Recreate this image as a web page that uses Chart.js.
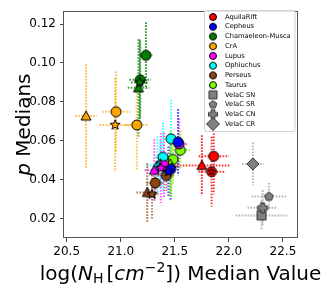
<!DOCTYPE html>
<html><head><meta charset="utf-8">
<script src="https://cdn.jsdelivr.net/npm/chart.js@4"></script>
<style>html,body{margin:0;padding:0;background:#fff}#wrap{width:330px;height:291px;position:relative}</style>
</head><body><div id="wrap"><canvas id="c" width="330" height="291"></canvas></div>
<script>
// ---- data ----
const regions = ['AquilaRift','Cepheus','Chamaeleon-Musca','CrA','Lupus','Ophiuchus','Perseus','Taurus'];
const velaLabels = ['VelaC SN','VelaC SR','VelaC CN','VelaC CR'];
const xTicks = [20.5, 21.0, 21.5, 22.0, 22.5];
const yTicks = [0.02, 0.04, 0.06, 0.08, 0.10, 0.12];

const aquilaX = [21.86, 21.75, 21.84];
const aquilaY = [0.0520, 0.0473, 0.0441];
const aquilaXErr = [0.14, 0.26, 0.12];
const aquilaYErr = [0.0195, 0.0155, 0.0180];
const aquilaKind = ['circle','triangle','circstar'];

const cepheusX = [21.53, 21.46, 21.44];
const cepheusY = [0.0593, 0.0453, 0.0441];
const cepheusXErr = [0.05, 0.07, 0.05];
const cepheusYErr = [0.017, 0.016, 0.013];
const cepheusKind = ['circle','circle','star'];

const chamX = [21.233, 21.18, 21.164, 21.175];
const chamY = [0.1039, 0.0913, 0.0872, 0.0900];
const chamXErr = [0.06, 0.10, 0.10, 0.08];
const chamYErr = [0.017, 0.020, 0.025, 0.022];
const chamKind = ['circle','circle','triangle','star'];

const craX = [20.679, 20.957, 20.948, 21.149];
const craY = [0.0727, 0.0749, 0.0681, 0.0681];
const craXErr = [0.10, 0.13, 0.145, 0.11];
const craYErr = [0.0267, 0.0207, 0.0240, 0.0228];
const craKind = ['triangle','circle','star','circle'];

const lupusX = [21.54, 21.40, 21.31, 21.37];
const lupusY = [0.0583, 0.0473, 0.0448, 0.0460];
const lupusXErr = [0.08, 0.08, 0.09, 0.05];
const lupusYErr = [0.013, 0.017, 0.016, 0.018];
const lupusKind = ['circle','circle','triangle','star'];

const ophX = [21.465, 21.39, 21.34, 21.366];
const ophY = [0.0610, 0.0515, 0.0473, 0.0481];
const ophXErr = [0.07, 0.07, 0.10, 0.06];
const ophYErr = [0.020, 0.018, 0.015, 0.012];
const ophKind = ['circle','circle','triangle','star'];

const perX = [21.421, 21.319, 21.245, 21.289];
const perY = [0.0421, 0.0383, 0.0334, 0.0325];
const perXErr = [0.08, 0.08, 0.10, 0.06];
const perYErr = [0.008, 0.008, 0.015, 0.013];
const perKind = ['circle','circle','triangle','star'];

const taurusX = [21.551, 21.483, 21.458, 21.47];
const taurusY = [0.0551, 0.0504, 0.0481, 0.0460];
const taurusXErr = [0.09, 0.07, 0.06, 0.05];
const taurusYErr = [0.010, 0.013, 0.017, 0.015];
const taurusKind = ['circle','circle','triangle','star'];

const velaX = [22.302, 22.370, 22.312, 22.222];
const velaY = [0.0216, 0.0313, 0.0255, 0.0481];
const velaXErr = [0.24, 0.16, 0.14, 0.10];
const velaYErr = [0.0076, 0.0070, 0.0090, 0.0110];
const velaKind = ['square','pentagon','plus','diamond'];

const regionColors = ['#ff0000','#0000ff','#008000','#ffa500','#ff00ff','#00ffff','#8b4513','#7cfc00'];
const errColors = ['rgba(255,0,0,0.8)','rgba(0,0,255,0.7)','rgba(0,128,0,0.75)','rgba(255,165,0,0.7)','rgba(255,0,255,0.7)','rgba(0,255,255,0.8)','rgba(139,69,19,0.7)','rgba(124,252,0,0.8)'];

// ---- markers ----
function makeMarker(kind, fill, size, edge) {
  let d = Math.ceil(size) + 4; if (d % 2) d++;
  const c = document.createElement('canvas'); c.width = d; c.height = d;
  const g = c.getContext('2d'); const cx = d/2, cy = d/2, r = size/2;
  g.beginPath();
  const poly = (n, rr, rot) => { for (let i=0;i<n;i++){ const a = rot + i*2*Math.PI/n; const px=cx+rr*Math.cos(a), py=cy+rr*Math.sin(a); i?g.lineTo(px,py):g.moveTo(px,py);} g.closePath(); };
  if (kind==='circle' || kind==='circstar') g.arc(cx,cy,r,0,Math.PI*2);
  else if (kind==='triangle') { g.moveTo(cx,cy-r); g.lineTo(cx+r,cy+r*0.8); g.lineTo(cx-r,cy+r*0.8); g.closePath(); }
  else if (kind==='star') { for (let i=0;i<10;i++){ const a=-Math.PI/2+i*Math.PI/5; const rr=i%2? r*0.45 : r*1.05; const px=cx+rr*Math.cos(a), py=cy+rr*Math.sin(a); i?g.lineTo(px,py):g.moveTo(px,py);} g.closePath(); }
  else if (kind==='pentagon') poly(5, r, -Math.PI/2);
  else if (kind==='square') g.rect(cx-r, cy-r, 2*r, 2*r);
  else if (kind==='diamond') poly(4, r, -Math.PI/2);
  else if (kind==='plus') { const w=r*0.4; g.moveTo(cx-w,cy-r); g.lineTo(cx+w,cy-r); g.lineTo(cx+w,cy-w); g.lineTo(cx+r,cy-w); g.lineTo(cx+r,cy+w); g.lineTo(cx+w,cy+w); g.lineTo(cx+w,cy+r); g.lineTo(cx-w,cy+r); g.lineTo(cx-w,cy+w); g.lineTo(cx-r,cy+w); g.lineTo(cx-r,cy-w); g.lineTo(cx-w,cy-w); g.closePath(); }
  g.fillStyle = fill; g.fill(); g.lineWidth = 1; g.strokeStyle = edge || '#000'; g.stroke();
  if (kind==='circstar') { g.beginPath(); for (let i=0;i<10;i++){ const a=-Math.PI/2+i*Math.PI/5; const rr=i%2? r*0.3 : r*0.7; const px=cx+rr*Math.cos(a), py=cy+rr*Math.sin(a); i?g.lineTo(px,py):g.moveTo(px,py);} g.closePath(); g.stroke(); }
  return c;
}
const plotSize = {circle:10, circstar:10, triangle:10, star:10, square:9, pentagon:9, plus:10, diamond:12};

const groups = [
  {x:aquilaX, y:aquilaY, xe:aquilaXErr, ye:aquilaYErr, k:aquilaKind, i:0},
  {x:cepheusX, y:cepheusY, xe:cepheusXErr, ye:cepheusYErr, k:cepheusKind, i:1},
  {x:chamX, y:chamY, xe:chamXErr, ye:chamYErr, k:chamKind, i:2},
  {x:craX, y:craY, xe:craXErr, ye:craYErr, k:craKind, i:3},
  {x:lupusX, y:lupusY, xe:lupusXErr, ye:lupusYErr, k:lupusKind, i:4},
  {x:ophX, y:ophY, xe:ophXErr, ye:ophYErr, k:ophKind, i:5},
  {x:perX, y:perY, xe:perXErr, ye:perYErr, k:perKind, i:6},
  {x:taurusX, y:taurusY, xe:taurusXErr, ye:taurusYErr, k:taurusKind, i:7},
  {x:velaX, y:velaY, xe:velaXErr, ye:velaYErr, k:velaKind, i:-1}
];

const datasets = groups.map(gr => {
  const fill = gr.i >= 0 ? regionColors[gr.i] : '#808080';
  const edge = gr.i >= 0 ? '#000' : '#333';
  const imgs = gr.k.map(k => makeMarker(k, fill, plotSize[k], edge));
  return {
    label: gr.i >= 0 ? regions[gr.i] : 'VelaC',
    data: gr.x.map((v, j) => ({x: v, y: gr.y[j]})),
    pointStyle: ctx => imgs[ctx.dataIndex],
    pointRadius: 5,
    showLine: false
  };
});

const errorBars = {
  id: 'errorBars',
  beforeDatasetsDraw(chart) {
    const ctx = chart.ctx, xs = chart.scales.x, ys = chart.scales.y, a = chart.chartArea;
    ctx.save();
    ctx.beginPath(); ctx.rect(a.left, a.top, a.right-a.left, a.bottom-a.top); ctx.clip();
    ctx.lineWidth = 2; ctx.setLineDash([1.6, 1.4]);
    groups.forEach(gr => {
      ctx.strokeStyle = gr.i >= 0 ? errColors[gr.i] : 'rgba(150,150,150,0.7)';
      gr.x.forEach((v, j) => {
        const px = xs.getPixelForValue(v), py = ys.getPixelForValue(gr.y[j]);
        ctx.beginPath();
        ctx.moveTo(xs.getPixelForValue(v - gr.xe[j]), py); ctx.lineTo(xs.getPixelForValue(v + gr.xe[j]), py);
        ctx.moveTo(px, ys.getPixelForValue(gr.y[j] + gr.ye[j])); ctx.lineTo(px, ys.getPixelForValue(gr.y[j] - gr.ye[j]));
        ctx.stroke();
      });
    });
    ctx.restore();
  }
};

const decor = {
  id: 'decor',
  afterDraw(chart) {
    const ctx = chart.ctx, a = chart.chartArea;
    ctx.save();
    // frame
    ctx.strokeStyle = '#555'; ctx.lineWidth = 1;
    ctx.strokeRect(Math.round(a.left)-0.5, Math.round(a.top)+0.5, Math.round(a.right-a.left)+1, Math.round(a.bottom-a.top)-1);
    // legend
    const lx = 204, ly = 10, lw = 90.5, lh = 121;
    ctx.fillStyle = 'rgba(255,255,255,0.85)'; ctx.strokeStyle = '#d0d0d0';
    ctx.beginPath(); ctx.roundRect(lx+0.5, ly+0.5, lw, lh, 2); ctx.fill(); ctx.stroke();
    const labels = regions.concat(velaLabels);
    const legSize = {square:8, pentagon:8, plus:9, diamond:13};
    ctx.font = '6.7px "DejaVu Sans"'; ctx.fillStyle = '#000'; ctx.textBaseline = 'middle'; ctx.textAlign = 'left';
    labels.forEach((lab, i) => {
      const yy = 17 + i * 9.73;
      let img;
      if (i < regions.length) img = makeMarker('circle', regionColors[i], 7, '#000');
      else { const k = velaKind[i - regions.length]; img = makeMarker(k, '#808080', legSize[k], '#333'); }
      ctx.drawImage(img, 213 - img.width/2, yy - img.height/2);
      ctx.fillText(lab, 225, yy);
    });
    // axis titles
    ctx.fillStyle = '#000'; ctx.textBaseline = 'alphabetic';
    const segs = (list) => list.reduce((s, t) => { ctx.font = t.f; return s + ctx.measureText(t.t).width + (t.dx||0); }, 0);
    const drawSegs = (list, x0, y0) => { let x = x0; list.forEach(t => { ctx.font = t.f; ctx.fillText(t.t, x, y0 + (t.dy||0)); x += ctx.measureText(t.t).width + (t.dx||0); }); };
    const N = '20px "DejaVu Sans"', I = 'italic 20px "DejaVu Sans"', S = '14px "DejaVu Sans"';
    const xt = [
      {t:'log(', f:N}, {t:'N', f:I}, {t:'H', f:S, dy:3, dx:3}, {t:'[', f:N}, {t:'cm', f:I},
      {t:'\u22122', f:S, dy:-8}, {t:'])', f:N}, {t:' Median Value', f:N}
    ];
    ctx.textAlign = 'left';
    const wx = segs(xt);
    drawSegs(xt, (a.left + a.right)/2 - wx/2, 280);
    const yt = [{t:'p', f:I}, {t:' Medians', f:N}];
    const wy = segs(yt);
    ctx.translate(30, (a.top + a.bottom)/2); ctx.rotate(-Math.PI/2);
    drawSegs(yt, -wy/2, 0);
    ctx.restore();
  }
};

const tickFont = {family: '"DejaVu Sans"', size: 12};
new Chart(document.getElementById('c'), {
  type: 'scatter',
  data: {datasets},
  options: {
    responsive: false, animation: false, devicePixelRatio: 1, events: [],
    layout: {padding: {left: 24, right: 33, top: 8, bottom: 23}},
    plugins: {legend: {display: false}, tooltip: {enabled: false}},
    scales: {
      x: {
        type: 'linear', min: 20.475, max: 22.63,
        afterBuildTicks: s => { s.ticks = xTicks.map(v => ({value: v})); },
        afterFit: s => { s.height = 30; },
        ticks: {callback: v => Number(v).toFixed(1), font: tickFont, color: '#000', maxRotation: 0, autoSkip: false, padding: 3},
        grid: {display: true, drawOnChartArea: false, tickLength: 4, color: '#444'},
        border: {display: false}
      },
      y: {
        type: 'linear', min: 0.0100, max: 0.1266,
        afterBuildTicks: s => { s.ticks = yTicks.map(v => ({value: v})); },
        afterFit: s => { s.width = 40; },
        ticks: {callback: v => Number(v).toFixed(2), font: tickFont, color: '#000', autoSkip: false, padding: 4},
        grid: {display: true, drawOnChartArea: false, tickLength: 4, color: '#444'},
        border: {display: false}
      }
    }
  },
  plugins: [errorBars, decor]
});
</script></body></html>
